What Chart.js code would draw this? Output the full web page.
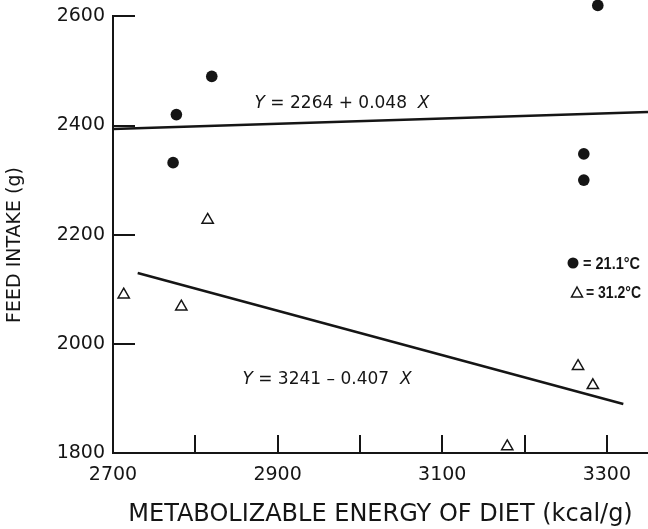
<!DOCTYPE html>
<html>
<head>
<meta charset="utf-8">
<script src="https://cdn.jsdelivr.net/npm/chart.js@4"></script>
<style>
  html, body { margin: 0; padding: 0; background: #fff; }
  #wrap { width: 648px; height: 529px; position: relative; }
</style>
</head>
<body>
<div id="wrap"><canvas id="feedChart"></canvas></div>
<script>
// metabolizable energy of diet (kcal/g) vs feed intake (g), two temperatures
const coolEnergy = [2773, 2777, 2820, 3289, 3272, 3272];
const coolIntake = [2332, 2420, 2490, 2620, 2348, 2300];
const warmEnergy = [2713, 2783, 2815, 3179, 3265, 3283];
const warmIntake = [2090, 2068, 2227, 1812, 1959, 1924];

// regression lines: [intercept, slope] and the x span each is drawn over
const coolFit = [2264, 0.048];
const warmFit = [3241, -0.407];
const coolFitRange = [2700, 3350];
const warmFitRange = [2730, 3320];

const xTicks = [2700, 2800, 2900, 3000, 3100, 3200, 3300];
const xLabelled = [2700, 2900, 3100, 3300];
const yTicks = [1800, 2000, 2200, 2400, 2600];

const INK = '#151515';
const FONT = "'DejaVu Sans', sans-serif";
const KEY_FONT = "'Liberation Sans', Arial, sans-serif";

function fitLine(fit, range) {
    return range.map(x => ({ x: x, y: fit[0] + fit[1] * x }));
}

function drawEquation(ctx, parts, cx, cy, size) {
    let total = 0;
    parts.forEach(p => {
        ctx.font = (p[1] ? 'italic ' : '') + size + 'px ' + FONT;
        total += ctx.measureText(p[0]).width;
    });
    let x = cx - total / 2;
    ctx.textAlign = 'left';
    ctx.textBaseline = 'middle';
    parts.forEach(p => {
        ctx.font = (p[1] ? 'italic ' : '') + size + 'px ' + FONT;
        ctx.fillText(p[0], x, cy);
        x += ctx.measureText(p[0]).width;
    });
}

// key text squeezed into a fixed width
function drawKeyText(ctx, text, x, y, width) {
    ctx.save();
    ctx.font = 'bold 17px ' + KEY_FONT;
    ctx.textAlign = 'left';
    ctx.textBaseline = 'middle';
    const sx = Math.min(1, width / ctx.measureText(text).width);
    ctx.translate(x, y);
    ctx.scale(sx, 1);
    ctx.fillText(text, 0, 0);
    ctx.restore();
}

// y axis line (stops at the top tick), inward ticks, equations, key
const figureMarks = {
    id: 'figureMarks',
    afterDraw(chart) {
        const ctx = chart.ctx;
        const xs = chart.scales.x, ys = chart.scales.y;
        const area = chart.chartArea;
        const yTop = Math.round(ys.getPixelForValue(yTicks[yTicks.length - 1]));
        ctx.save();
        ctx.strokeStyle = INK;
        ctx.lineWidth = 2;
        ctx.beginPath();
        ctx.moveTo(area.left, area.bottom + 1);
        ctx.lineTo(area.left, yTop);
        xTicks.slice(1).forEach(v => {
            const px = Math.round(xs.getPixelForValue(v));
            ctx.moveTo(px, area.bottom);
            ctx.lineTo(px, area.bottom - 18);
        });
        yTicks.slice(1).forEach(v => {
            const py = Math.round(ys.getPixelForValue(v));
            ctx.moveTo(area.left - 1, py);
            ctx.lineTo(area.left + 22, py);
        });
        ctx.stroke();

        ctx.fillStyle = INK;

        // y axis title
        ctx.save();
        ctx.translate(15, 245);
        ctx.rotate(-Math.PI / 2);
        ctx.font = '19px ' + FONT;
        ctx.textAlign = 'center';
        ctx.textBaseline = 'middle';
        ctx.fillText('FEED INTAKE (g)', 0, 0);
        ctx.restore();

        drawEquation(ctx, [['Y', true], [' = 2264 + 0.048  ', false], ['X', true]], 342, 104, 17);
        drawEquation(ctx, [['Y', true], [' = 3241 \u2013 0.407  ', false], ['X', true]], 327, 380, 17);

        // key
        ctx.beginPath();
        ctx.arc(573, 263, 5.5, 0, Math.PI * 2);
        ctx.fill();
        ctx.lineWidth = 1.5;
        ctx.beginPath();
        ctx.moveTo(577, 287);
        ctx.lineTo(582.5, 297);
        ctx.lineTo(571.5, 297);
        ctx.closePath();
        ctx.stroke();
        drawKeyText(ctx, '= 21.1\u00B0C', 583, 264, 57);
        drawKeyText(ctx, '= 31.2\u00B0C', 586, 293, 55);
        ctx.restore();
    }
};

new Chart(document.getElementById('feedChart'), {
    type: 'scatter',
    data: {
        datasets: [
            {
                label: '21.1\u00B0C',
                data: coolEnergy.map((x, i) => ({ x: x, y: coolIntake[i] })),
                pointStyle: 'circle',
                pointRadius: 5.8,
                backgroundColor: INK,
                borderWidth: 0,
                clip: false
            },
            {
                label: '31.2\u00B0C',
                data: warmEnergy.map((x, i) => ({ x: x, y: warmIntake[i] })),
                pointStyle: 'triangle',
                pointRadius: 6.5,
                backgroundColor: 'rgba(255,255,255,0)',
                borderColor: INK,
                borderWidth: 1.5,
                clip: false
            },
            {
                type: 'line',
                label: 'fit 21.1',
                data: fitLine(coolFit, coolFitRange),
                borderColor: INK,
                borderWidth: 2.5,
                pointRadius: 0,
                clip: false
            },
            {
                type: 'line',
                label: 'fit 31.2',
                data: fitLine(warmFit, warmFitRange),
                borderColor: INK,
                borderWidth: 2.5,
                pointRadius: 0,
                clip: false
            }
        ]
    },
    options: {
        responsive: true,
        maintainAspectRatio: false,
        animation: false,
        layout: { autoPadding: false, padding: 0 },
        plugins: { legend: { display: false }, tooltip: { enabled: false } },
        scales: {
            x: {
                type: 'linear',
                min: 2700,
                max: 3350,
                afterBuildTicks: scale => { scale.ticks = xTicks.map(v => ({ value: v })); },
                afterFit: scale => { scale.height = 76; },
                ticks: {
                    color: INK,
                    padding: 11,
                    maxRotation: 0,
                    font: { family: FONT, size: 19 },
                    callback: v => xLabelled.includes(v) ? String(v) : ''
                },
                grid: { drawOnChartArea: false, drawTicks: false },
                border: { display: true, color: INK, width: 2 },
                title: {
                    display: true,
                    text: 'METABOLIZABLE ENERGY OF DIET (kcal/g)',
                    color: INK,
                    font: { family: FONT, size: 24 },
                    padding: { top: 2, bottom: 0 }
                }
            },
            y: {
                type: 'linear',
                min: 1800,
                max: 2630,
                afterBuildTicks: scale => { scale.ticks = yTicks.map(v => ({ value: v })); },
                afterFit: scale => {
                    scale.width = 113;
                    scale.paddingTop = 0;
                    scale.paddingBottom = 0;
                },
                ticks: {
                    color: INK,
                    padding: 8,
                    font: { family: FONT, size: 19 },
                    callback: v => String(v)
                },
                grid: { drawOnChartArea: false, drawTicks: false },
                border: { display: false }
            }
        }
    },
    plugins: [figureMarks]
});
</script>
</body>
</html>
